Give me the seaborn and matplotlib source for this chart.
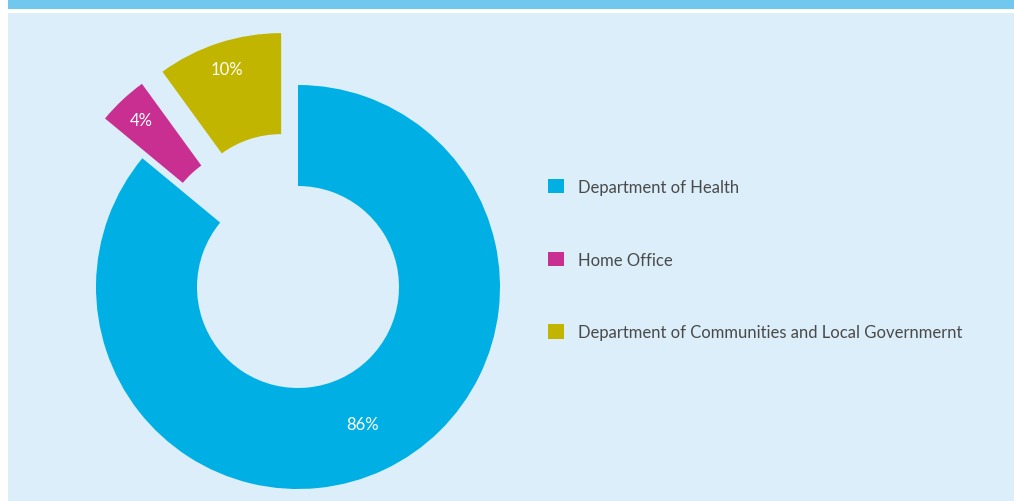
import matplotlib
matplotlib.use("Agg")
import matplotlib.pyplot as plt
from matplotlib.patches import Rectangle
import seaborn as sns

# ---- data ----
categories = ["Department of Health", "Home Office",
              "Department of Communities and Local Governmernt"]
shares = [86, 4, 10]
explode = [0, 0.27, 0.27]
colors = ["#00afe4", "#c92e91", "#c2b500"]

sns.set_theme(style="white")
plt.rcParams["font.family"] = ["Lato", "DejaVu Sans"]

W, H = 1014, 502
fig = plt.figure(figsize=(W / 100, H / 100), dpi=100, facecolor="white")

# background decorations
fig.add_artist(Rectangle((8 / W, 1 - 9.5 / H), 1, 9.5 / H, transform=fig.transFigure,
                         facecolor="#70c8ef", edgecolor="none", zorder=0))
fig.add_artist(Rectangle((8 / W, 0), 1, 1 - 13.5 / H, transform=fig.transFigure,
                         facecolor="#dbeef9", edgecolor="none", zorder=0))

# pie axes: centre at (298, 288) px from top-left, radius 202 px
scale = 202.0
lim = 1.4
size = 2 * lim * scale
cx, cy = 298, H - 288
ax = fig.add_axes([(cx - size / 2) / W, (cy - size / 2) / H, size / W, size / H])
ax.set_facecolor("none")
ax.axis("off")

wedges, texts, autotexts = ax.pie(
    shares, colors=sns.color_palette(colors), explode=explode,
    startangle=90, counterclock=False, radius=1.0,
    wedgeprops=dict(width=0.5, edgecolor="none"),
    autopct=lambda p: f"{p:.0f}%", pctdistance=0.75,
    textprops=dict(color="white", fontsize=12),
)
ax.set_xlim(-lim, lim)
ax.set_ylim(-lim, lim)

# push labels of the exploded slices further out
for w, t, e in zip(wedges, autotexts, explode):
    if e > 0:
        wx, wy = w.center
        x, y = t.get_position()
        k = 0.865 / 0.75
        t.set_position((wx + (x - wx) * k, wy + (y - wy) * k))

leg = fig.legend(
    wedges, categories, loc="center left",
    bbox_to_anchor=(548 / W, 1 - 260.5 / H), frameon=False,
    handlelength=0.95, handleheight=0.95, handletextpad=0.85,
    labelspacing=3.4, borderpad=0, borderaxespad=0, fontsize=12,
)
for txt in leg.get_texts():
    txt.set_color("#4a4a4a")

fig.savefig("out.png", dpi=100, facecolor="white")
